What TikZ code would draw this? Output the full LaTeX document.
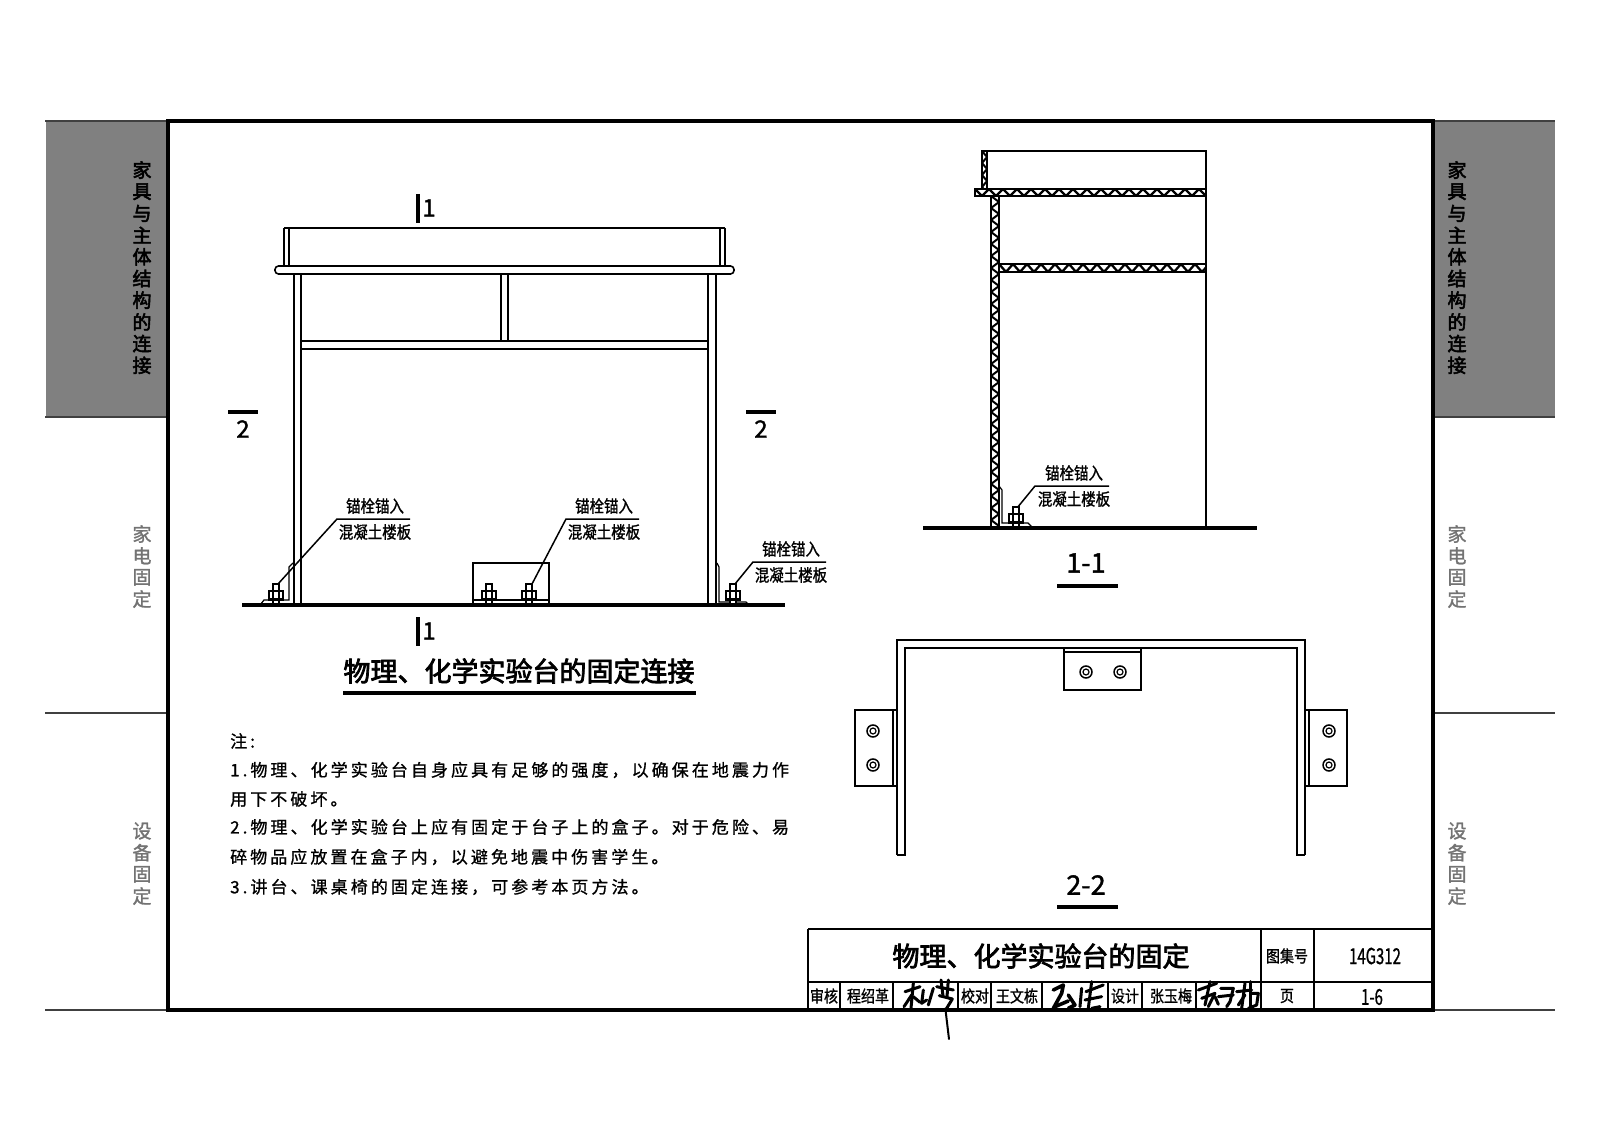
\documentclass[tikz,border=0pt]{standalone}
\usepackage{fontspec}
\setmainfont{Noto Sans CJK SC}
\newfontfamily\cjknarrow[FakeStretch=0.85,FakeBold=1]{Noto Sans CJK SC}
\newfontfamily\cjkcond[FakeStretch=0.68,FakeBold=0.8]{Noto Sans CJK SC}
\newfontfamily\cjkspaced[LetterSpace=18,FakeBold=1]{Noto Sans CJK SC}
\newfontfamily\cjkheavy[FakeBold=2.8]{Noto Sans CJK SC}
\newfontfamily\cjksoft[FakeBold=1.4]{Noto Sans CJK SC}
\definecolor{tabgray}{gray}{0.5}
\tikzset{
	thinline/.style={black, line width=1.2pt},
	legline/.style={black, line width=1.6pt},
	groundline/.style={black, line width=3.4pt},
	frameline/.style={black, line width=3.6pt},
	penline/.style={black, line width=3pt, line cap=round, line join=round},
	leadertext/.style={font=\cjknarrow\fontsize{17}{17}\selectfont, inner sep=0pt},
	notetext/.style={font=\cjkspaced\fontsize{17}{17}\selectfont, anchor=west, inner sep=0pt},
	cardtext/.style={font=\cjknarrow\fontsize{16.5}{17}\selectfont, inner sep=0pt},
	titletext/.style={font=\cjkheavy\fontsize{27}{27}\selectfont, inner sep=0pt},
	marktext/.style={font=\cjksoft\fontsize{24}{24}\selectfont, inner sep=0pt},
	viewtext/.style={font=\cjksoft\fontsize{27}{27}\selectfont, inner sep=0pt}
}
\newcommand{\boltside}[2]{
	\draw[thinline, fill=white] (#1-3,#2-21) rectangle (#1+3,#2);
	\draw[thinline, fill=white] (#1-7,#2-14) rectangle (#1+7,#2-6);
	\draw[thinline] (#1-3,#2-14)--(#1-3,#2-6);
	\draw[thinline] (#1+3,#2-14)--(#1+3,#2-6);
	\draw[thinline] (#1-8,#2-5)--(#1+8,#2-5);
}
\newcommand{\boltplan}[2]{
	\draw[black, line width=1.5pt] (#1,#2) circle (6);
	\draw[black, line width=1.2pt] (#1,#2) circle (3);
}
\newcommand{\hatchflat}[4]{
	\begin{scope}
		\clip (#1,#3) rectangle (#2,#4);
		\foreach \x in {0,14,...,240}{
			\draw[black, line width=2.3pt] (#1+\x,#3)--(#1+\x+7,#4)--(#1+\x+14,#3);
		}
	\end{scope}
	\draw[black, line width=1.8pt] (#1,#3) rectangle (#2,#4);
}
\newcommand{\hatchtall}[4]{
	\begin{scope}
		\clip (#1,#3) rectangle (#2,#4);
		\foreach \y in {0,12,...,336}{
			\draw[black, line width=2pt] (#1,#3+\y)--(#2,#3+\y+6)--(#1,#3+\y+12);
		}
	\end{scope}
	\draw[black, line width=1.6pt] (#1,#3) rectangle (#2,#4);
}
\begin{document}
\begin{tikzpicture}[x=1pt,y=-1pt]
	\useasboundingbox (0,0) rectangle (1600,1131);
	\fill[white] (0,0) rectangle (1600,1131);
	\fill[tabgray] (46,121) rectangle (168,417);
	\fill[tabgray] (1433,121) rectangle (1555,417);
	\foreach \y in {121,417,713,1010}{
		\draw[black!75, line width=1.2pt] (45,\y)--(168,\y);
		\draw[black!75, line width=1.2pt] (1433,\y)--(1555,\y);
	}
	\foreach \s/\sx in {L/142,R/1457}{
		\foreach \c [count=\i] in {家,具,与,主,体,结,构,的,连,接}{
			\node[font=\cjkheavy\fontsize{19}{19}\selectfont, inner sep=0pt] (tab\s\i) at (\sx,170+21.7*\i-21.7){\c};
		}
		\foreach \c [count=\i] in {家,电,固,定}{
			\node[font=\cjksoft\fontsize{19}{19}\selectfont, text=black!55, inner sep=0pt] (home\s\i) at (\sx,534+21.7*\i-21.7){\c};
		}
		\foreach \c [count=\i] in {设,备,固,定}{
			\node[font=\cjksoft\fontsize{19}{19}\selectfont, text=black!55, inner sep=0pt] (unit\s\i) at (\sx,831+21.7*\i-21.7){\c};
		}
	}
	\draw[frameline] (168,121) rectangle (1433,1010);

	\draw[black, line width=1.8pt] (284,228)--(725,228);
	\draw[legline] (284,228)--(284,266);
	\draw[legline] (289,228)--(289,266);
	\draw[legline] (720,228)--(720,266);
	\draw[legline] (725,228)--(725,266);
	\draw[legline, fill=white, rounded corners=3.5pt] (275,266) rectangle (734,274);
	\foreach \x in {294,301,708,716}{
		\draw[legline] (\x,274)--(\x,605);
	}
	\foreach \x in {501,508}{
		\draw[legline] (\x,274)--(\x,341);
	}
	\foreach \y in {341,349}{
		\draw[legline] (301,\y)--(708,\y);
	}
	\draw[thinline] (293,563)--(289,567)--(289,600)--(264,600)--(260,605);
	\draw[thinline] (717,563)--(719,567)--(719,602)--(746,602)--(749,605);
	\draw[thinline] (473,605)--(473,563)--(549,563)--(549,605);
	\draw[thinline] (473,600)--(549,600);
	\foreach \x in {276,489,529,733}{
		\boltside{\x}{605}
	}
	\draw[groundline] (242,605)--(785,605);

	\node[marktext] (markTopNum) at (429,208){1};
	\node[marktext] (markLowNum) at (429,631){1};
	\coordinate (markTopA) at (418,194);
	\coordinate (markTopB) at (418,223);
	\coordinate (markLowA) at (418,617);
	\coordinate (markLowB) at (418,646);
	\draw[groundline] (markTopA)--(markTopB);
	\draw[groundline] (markLowA)--(markLowB);
	\node[marktext] (markLeftNum) at (243,429){2};
	\node[marktext] (markRightNum) at (761,429){2};
	\coordinate (markLeftA) at (228,412);
	\coordinate (markLeftB) at (258,412);
	\coordinate (markRightA) at (746,412);
	\coordinate (markRightB) at (776,412);
	\draw[groundline] (markLeftA)--(markLeftB);
	\draw[groundline] (markRightA)--(markRightB);

	\foreach \n/\ax/\ay/\kx/\ky/\ex/\tx in {lA/278/584/337/519/410/375,lB/532/584/566/519/639/604,lC/735/584/753/562/826/791,lD/1017/508/1035/486/1109/1074}{
		\coordinate (\n bolt) at (\ax,\ay);
		\coordinate (\n knee) at (\kx,\ky);
		\coordinate (\n end) at (\ex,\ky);
		\draw[black, line width=1.5pt] (\n bolt)--(\n knee)--(\n end);
		\node[leadertext] (\n top) at (\tx,\ky-13){锚栓锚入};
		\node[leadertext] (\n low) at (\tx,\ky+13){混凝土楼板};
	}

	\node[titletext] (mainTitle) at (519,671){物理、化学实验台的固定连接};
	\coordinate (mainRuleA) at (343,693);
	\coordinate (mainRuleB) at (696,693);
	\draw[groundline] (mainRuleA)--(mainRuleB);

	\foreach \y/\t [count=\i] in {741/{注:},770/{1.物理、化学实验台自身应具有足够的强度，以确保在地震力作},799/{用下不破坏。},827/{2.物理、化学实验台上应有固定于台子上的盒子。对于危险、易},857/{碎物品应放置在盒子内，以避免地震中伤害学生。},887/{3.讲台、课桌椅的固定连接，可参考本页方法。}}{
		\node[notetext] (note\i) at (230,\y){\t};
	}

	\draw[black, line width=1.4pt] (982,151)--(1206,151)--(1206,528);
	\hatchtall{982}{987}{151}{189}
	\hatchtall{991}{999}{196}{528}
	\hatchflat{975}{1206}{189}{196}
	\hatchflat{999}{1206}{264}{272}
	\draw[thinline] (999,486)--(1002,490)--(1002,523)--(1028,523)--(1032,527);
	\boltside{1016}{528}
	\draw[groundline] (923,528)--(1257,528);
	\node[viewtext] (viewOne) at (1086,563){1-1};
	\coordinate (viewOneA) at (1057,586);
	\coordinate (viewOneB) at (1118,586);
	\draw[groundline] (viewOneA)--(viewOneB);

	\draw[black, line width=1.4pt] (897,855)--(897,640)--(1305,640)--(1305,855);
	\draw[black, line width=1.8pt] (897,855)--(905,855)--(905,648)--(1297,648)--(1297,855)--(1305,855);
	\draw[legline] (1064,648) rectangle (1141,690);
	\draw[thinline] (1064,652)--(1141,652);
	\draw[legline] (855,710) rectangle (897,786);
	\draw[legline] (893,710)--(893,786);
	\draw[legline] (1305,710) rectangle (1347,786);
	\draw[legline] (1309,710)--(1309,786);
	\foreach \x/\y in {1086/672,1120/672,873/731,873/765,1329/731,1329/765}{
		\boltplan{\x}{\y}
	}
	\node[viewtext] (viewTwo) at (1086,885){2-2};
	\coordinate (viewTwoA) at (1057,907);
	\coordinate (viewTwoB) at (1118,907);
	\draw[groundline] (viewTwoA)--(viewTwoB);

	\draw[black, line width=2.6pt] (808,929)--(1433,929);
	\draw[black, line width=1.6pt] (808,929)--(808,1010);
	\draw[black, line width=1.1pt] (808,982)--(1433,982);
	\foreach \x in {1261,1314}{
		\draw[black, line width=1.2pt] (\x,929)--(\x,1010);
	}
	\foreach \x in {840,893,958,991,1042,1108,1142,1196}{
		\draw[thinline] (\x,982)--(\x,1010);
	}
	\node[titletext] (cardTitle) at (1041,956){物理、化学实验台的固定};
	\node[cardtext] (cardSet) at (1287,956){图集号};
	\node[cardtext, font=\cjkcond\fontsize{22}{22}\selectfont] (cardNo) at (1375,956){14G312};
	\node[cardtext] (cardPage) at (1287,996){页};
	\node[cardtext, font=\cjkcond\fontsize{22}{22}\selectfont] (cardPageNo) at (1372,997){1-6};
	\foreach \x/\t [count=\i] in {824/审核,868/程绍革,975/校对,1017/王文栋,1125/设计,1171/张玉梅}{
		\node[cardtext] (cardName\i) at (\x,996){\t};
	}

	\begin{scope}[shift={(805,925)},x=0.3333pt,y=-0.3333pt]
		\draw[penline] (300,200)--(345,185);
		\draw[penline] (325,175)--(318,250);
		\draw[penline] (320,210)--(297,245);
		\draw[penline] (325,215)--(345,232);
		\draw[penline] (355,195)--(350,235)--(365,225);
		\draw[penline] (385,190)--(370,240);
		\draw[penline] (395,185)--(445,195);
		\draw[penline] (408,165)--(414,212);
		\draw[penline] (430,165)--(426,215);
		\draw[penline] (403,212)--(442,222)--(425,250);
		\draw[penline, line width=2pt] (421,250)--(432,342);
		\draw[penline, line width=3.6pt] (745,195)--(775,180)--(770,205)--(745,250);
		\draw[penline, line width=3.6pt] (750,245)--(790,228);
		\draw[penline, line width=3.6pt] (790,210)--(810,240)--(790,250);
		\draw[penline] (830,190)--(825,245);
		\draw[penline] (860,170)--(850,250);
		\draw[penline] (843,200)--(895,180);
		\draw[penline] (840,225)--(890,215);
		\draw[penline] (860,250)--(885,245);
	\end{scope}
	\begin{scope}[shift={(1130,925)},x=0.3333pt,y=-0.3333pt]
		\draw[penline] (205,195)--(260,175);
		\draw[penline] (240,170)--(225,240);
		\draw[penline] (215,220)--(255,205)--(235,245);
		\draw[penline] (255,215)--(265,238);
		\draw[penline] (272,190)--(310,190)--(300,230)--(290,245);
		\draw[penline] (265,215)--(310,210);
		\draw[penline] (320,200)--(365,195);
		\draw[penline] (345,175)--(335,250);
		\draw[penline] (325,240)--(345,210);
		\draw[penline] (360,170)--(360,245);
		\draw[penline] (365,205)--(385,205)--(380,240)--(355,250);
	\end{scope}
\end{tikzpicture}
\end{document}
